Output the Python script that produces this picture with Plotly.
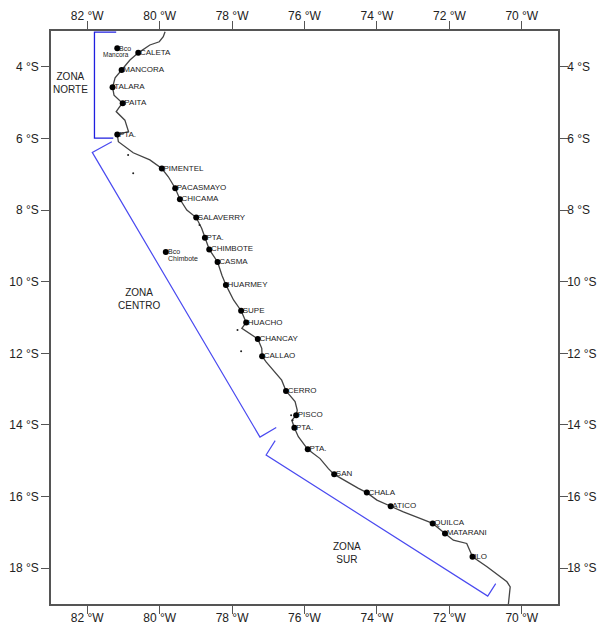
import plotly.graph_objects as go

coast_lon = [-79.85,-79.90,-80.01,-80.27,-80.59,-80.82,-81.05,-81.23,-81.30,-81.26,-81.03,-81.20,-80.96,-80.86,-81.17,-81.14,-80.73,-80.27,-79.94,-79.76,-79.57,-79.44,-79.25,-78.99,-78.84,-78.75,-78.63,-78.40,-78.28,-78.17,-77.96,-77.75,-77.61,-77.73,-77.29,-77.18,-77.17,-77.06,-76.81,-76.63,-76.51,-76.26,-76.20,-76.23,-76.35,-76.28,-76.17,-75.91,-75.57,-75.34,-75.18,-74.83,-74.51,-74.28,-74.00,-73.62,-73.27,-72.81,-72.46,-72.12,-71.89,-71.52,-71.36,-70.96,-70.41,-70.32,-70.37]
coast_lat = [-3.02,-3.16,-3.30,-3.39,-3.61,-3.81,-4.09,-4.31,-4.57,-4.79,-5.01,-5.25,-5.49,-5.81,-5.89,-6.09,-6.40,-6.60,-6.84,-7.07,-7.39,-7.70,-8.00,-8.21,-8.51,-8.77,-9.10,-9.45,-9.82,-10.09,-10.51,-10.81,-11.14,-11.30,-11.60,-11.86,-12.08,-12.24,-12.52,-12.75,-13.05,-13.35,-13.59,-13.73,-13.87,-14.08,-14.33,-14.68,-14.94,-15.22,-15.38,-15.59,-15.77,-15.89,-16.10,-16.27,-16.43,-16.61,-16.75,-17.03,-17.22,-17.31,-17.68,-17.96,-18.38,-18.52,-19.0]

port_names = ["CALETA","MANCORA","TALARA","PAITA","PTA.","PIMENTEL","PACASMAYO","CHICAMA","SALAVERRY","PTA.","CHIMBOTE","CASMA","HUARMEY","SUPE","HUACHO","CHANCAY","CALLAO","CERRO","PISCO","PTA.","PTA.","SAN","CHALA","ATICO","QUILCA","MATARANI","ILO"]
port_lon = [-80.59,-81.05,-81.30,-81.02,-81.17,-79.94,-79.57,-79.44,-78.99,-78.75,-78.63,-78.40,-78.17,-77.75,-77.61,-77.29,-77.17,-76.51,-76.23,-76.28,-75.91,-75.18,-74.28,-73.62,-72.46,-72.12,-71.36]
port_lat = [-3.61,-4.09,-4.57,-5.02,-5.89,-6.84,-7.39,-7.70,-8.21,-8.77,-9.10,-9.45,-10.09,-10.81,-11.14,-11.60,-12.08,-13.05,-13.73,-14.08,-14.68,-15.38,-15.89,-16.27,-16.75,-17.03,-17.68]

bank_lon = [-81.17,-79.83]
bank_lat = [-3.48,-9.17]
bank_top = ["Bco","Bco"]
bank_bottom = ["Mancora","Chimbote"]

island_lon = [-80.87,-80.73,-77.75,-76.37,-76.33,-78.90,-77.85]
island_lat = [-6.46,-6.97,-11.94,-13.73,-13.87,-8.42,-11.35]

norte_lon = [-81.20,-81.80,-81.80,-81.28]
norte_lat = [-3.03,-3.03,-5.99,-5.99]
centro_lon = [-81.32,-81.86,-77.23,-76.78]
centro_lat = [-6.09,-6.39,-14.34,-14.07]
sur_lon = [-76.81,-77.06,-70.94,-70.72]
sur_lat = [-14.44,-14.84,-18.78,-18.43]

zone_names = ["ZONA<br>NORTE","ZONA<br>CENTRO","ZONA<br>SUR"]
zone_lon = [-82.45,-80.57,-74.82]
zone_lat = [-4.45,-10.49,-17.58]

lon_ticks = [-82,-80,-78,-76,-74,-72,-70]
lon_labels = ["82 °W","80 °W","78 °W","76 °W","74 °W","72 °W","70 °W"]
lat_ticks = [-4,-6,-8,-10,-12,-14,-16,-18]
lat_labels = ["4 °S","6 °S","8 °S","10 °S","12 °S","14 °S","16 °S","18 °S"]

FONT = "Liberation Sans"
fig = go.Figure()
fig.add_trace(go.Scatter(x=coast_lon, y=coast_lat, mode="lines", line=dict(color="#444444", width=1.3)))
fig.add_trace(go.Scatter(x=norte_lon, y=norte_lat, mode="lines", line=dict(color="#1f1fe0", width=1.3)))
fig.add_trace(go.Scatter(x=centro_lon, y=centro_lat, mode="lines", line=dict(color="#4a4af0", width=1.2)))
fig.add_trace(go.Scatter(x=sur_lon, y=sur_lat, mode="lines", line=dict(color="#4a4af0", width=1.2)))
fig.add_trace(go.Scatter(x=island_lon, y=island_lat, mode="markers", marker=dict(color="#222222", size=2)))
fig.add_trace(go.Scatter(x=port_lon, y=port_lat, mode="markers", marker=dict(color="black", size=6)))
fig.add_trace(go.Scatter(x=port_lon, y=port_lat, mode="markers+text", text=port_names,
                         textposition="middle right", cliponaxis=False,
                         marker=dict(color="black", size=1, opacity=0),
                         textfont=dict(family=FONT, size=8, color="#222222")))
fig.add_trace(go.Scatter(x=bank_lon, y=bank_lat, mode="markers", marker=dict(color="black", size=6)))
for top, lon, lat in zip(bank_top, bank_lon, bank_lat):
    fig.add_annotation(x=lon, y=lat, text=top, showarrow=False, xanchor="left", xshift=0,
                       font=dict(family=FONT, size=7, color="#222222"))
fig.add_annotation(x=bank_lon[0], y=bank_lat[0], text=bank_bottom[0], showarrow=False, xanchor="right",
                   xshift=14, yshift=-6, font=dict(family=FONT, size=6.5, color="#222222"))
fig.add_annotation(x=bank_lon[1], y=bank_lat[1], text=bank_bottom[1], showarrow=False, xanchor="left",
                   xshift=0, yshift=-7, font=dict(family=FONT, size=7, color="#222222"))
for name, lon, lat in zip(zone_names, zone_lon, zone_lat):
    fig.add_annotation(x=lon, y=lat, text=name, showarrow=False, align="center",
                       font=dict(family=FONT, size=10, color="#222222"))
# empty trace that brings the mirrored top/right axes into being
fig.add_trace(go.Scatter(x=[None], y=[None], xaxis="x2", yaxis="y2", showlegend=False))

ax = dict(showgrid=False, zeroline=False, showline=True, linecolor="#555555", linewidth=1.5,
          ticks="outside", ticklen=8, tickwidth=1, tickcolor="#555555", automargin=False,
          tickfont=dict(family=FONT, size=12, color="#222222"))
fig.update_layout(
    width=598, height=627, autosize=False, showlegend=False,
    paper_bgcolor="white", plot_bgcolor="white",
    margin=dict(l=51, r=40, t=31, b=23),
    xaxis=dict(range=[-83, -69], tickvals=lon_ticks, ticktext=lon_labels, side="bottom", mirror=True, ticklabelstandoff=-6, **ax),
    yaxis=dict(range=[-19, -3], tickvals=lat_ticks, ticktext=lat_labels, side="left", mirror=True, **ax),
    xaxis2=dict(range=[-83, -69], tickvals=lon_ticks, ticktext=lon_labels, side="top", overlaying="x", anchor="y", ticklabelstandoff=-4, **ax),
    yaxis2=dict(range=[-19, -3], tickvals=lat_ticks, ticktext=lat_labels, side="right", overlaying="y", anchor="x", ticklabelstandoff=-3, **ax),
)
fig.write_html("out.html", config={"displayModeBar": False},
               post_script="document.body.style.margin='0';document.documentElement.style.overflow='hidden';")
